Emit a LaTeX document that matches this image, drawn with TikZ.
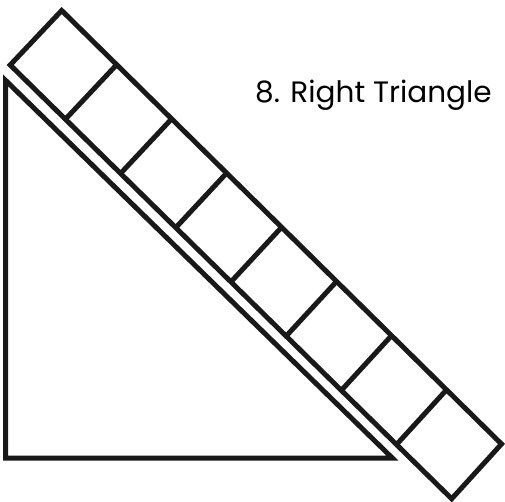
\documentclass[tikz,border=0pt]{standalone}
\usepackage{fontspec}
\setmainfont{Poppins}
\usetikzlibrary{calc}
\begin{document}
\begin{tikzpicture}[x=1pt,y=-1pt,
  shape line/.style={draw=black!90, line width=5pt, line join=miter},
  title/.style={anchor=base west, inner sep=0pt, font=\fontsize{29.5}{32}\selectfont}]
\useasboundingbox (0,0) rectangle (505,502);
% triangle
\coordinate (A) at (5.5,80.3);
\coordinate (B) at (5.5,458);
\coordinate (C) at (392.3,458);
\draw[shape line] (A) -- (B) -- (C) -- cycle;
% strip of squares
\coordinate (T) at (61.7,10.5);
\coordinate (L) at (10.2,65);
\coordinate (R) at (501.5,444);
\coordinate (Bt) at (451.7,498.8);
\draw[shape line] (T) -- (L) -- (Bt) -- (R) -- cycle;
\foreach \k in {1,...,7}{
  \draw[shape line] ($(T)!\k/8!(R)$) -- ($(L)!\k/8!(Bt)$);
}
\node[title] (lbl) at (255,102.3) {8. Right Triangle};
\end{tikzpicture}
\end{document}
